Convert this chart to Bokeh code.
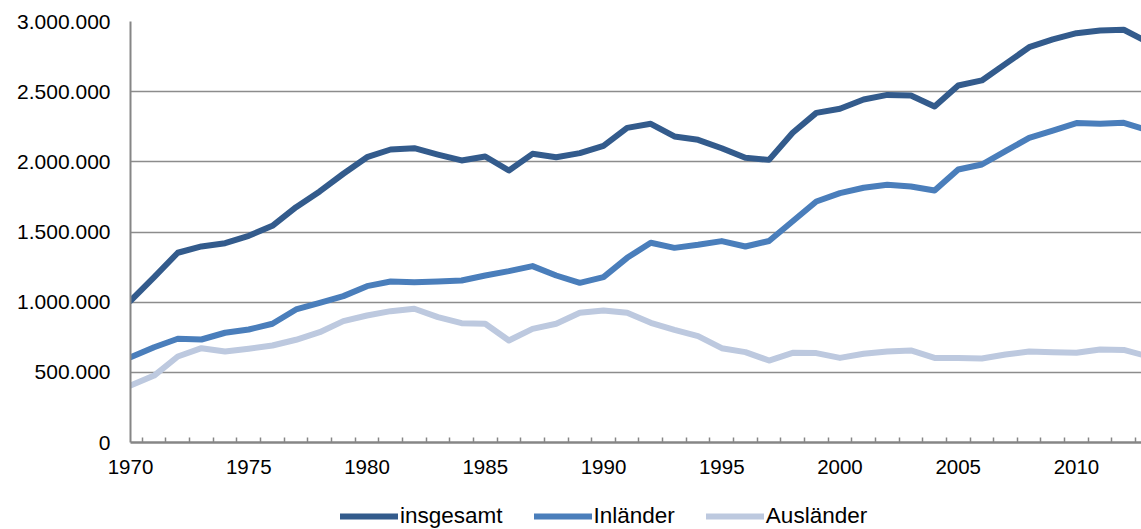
from bokeh.plotting import figure
from bokeh.layouts import column
from bokeh.models import (FixedTicker, CustomJSTickFormatter, Legend, LegendItem,
                          Range1d, ColumnDataSource)
from bokeh.embed import file_html
from bokeh.resources import INLINE

years = list(range(1970, 2014))
insgesamt = [1010000, 1178000, 1352000, 1397000, 1420000, 1473000, 1544000, 1677000, 1789000, 1915000,
             2033000, 2088000, 2097000, 2052000, 2010000, 2038000, 1938000, 2057000, 2033000, 2062000,
             2114000, 2242000, 2271000, 2181000, 2157000, 2097000, 2029000, 2014000, 2207000, 2349000,
             2378000, 2444000, 2477000, 2473000, 2394000, 2544000, 2580000, 2698000, 2817000, 2872000,
             2917000, 2936000, 2941000, 2855000]
inlaender = [608000, 679000, 739000, 734000, 782000, 805000, 846000, 948000, 995000, 1043000,
             1114000, 1147000, 1142000, 1147000, 1154000, 1190000, 1221000, 1257000, 1190000, 1138000,
             1178000, 1316000, 1423000, 1387000, 1409000, 1435000, 1397000, 1436000, 1577000, 1717000,
             1777000, 1815000, 1836000, 1824000, 1796000, 1945000, 1981000, 2076000, 2171000, 2223000,
             2276000, 2271000, 2278000, 2226000]
auslaender = [406000, 477000, 613000, 672000, 648000, 668000, 691000, 732000, 786000, 865000,
              905000, 936000, 953000, 893000, 850000, 846000, 727000, 810000, 846000, 924000,
              941000, 924000, 853000, 803000, 758000, 672000, 644000, 584000, 639000, 637000,
              603000, 632000, 648000, 656000, 603000, 603000, 599000, 627000, 648000, 643000,
              639000, 663000, 660000, 615000]
series_names = ["insgesamt", "Inländer", "Ausländer"]
x_labels = [1970, 1975, 1980, 1985, 1990, 1995, 2000, 2005, 2010]
y_ticks = [0, 500000, 1000000, 1500000, 2000000, 2500000, 3000000]

colors = ["#335B8C", "#4A7EBB", "#BDC9DF"]
FONT = "Liberation Sans"

source = ColumnDataSource(dict(year=years, ins=insgesamt, inl=inlaender, aus=auslaender))

p = figure(width=1141, height=495, output_backend="svg", toolbar_location=None,
           x_range=Range1d(1970, 2012.75), y_range=Range1d(0, 3000000),
           min_border_left=130, min_border_right=0, min_border_top=21, min_border_bottom=53)
p.outline_line_color = None
p.background_fill_color = "white"
p.border_fill_color = "white"

for col, c in zip(["ins", "inl", "aus"], colors):
    p.line("year", col, source=source, line_color=c, line_width=6,
           line_join="round", line_cap="round")

# x axis
p.xaxis.ticker = FixedTicker(ticks=x_labels, minor_ticks=[y + 0.5 for y in years])
p.xaxis.major_tick_in = 0
p.xaxis.major_tick_out = 0
p.xaxis.minor_tick_in = 5
p.xaxis.minor_tick_out = 0
p.xaxis.minor_tick_line_color = "#868686"
p.xaxis.minor_tick_line_width = 1.5
p.xaxis.axis_line_color = "#868686"
p.xaxis.axis_line_width = 2.5
p.xaxis.major_label_standoff = 17
p.xaxis.major_label_text_font = FONT
p.xaxis.major_label_text_font_size = "20.5px"
p.xaxis.major_label_text_color = "#000000"

# y axis
p.yaxis.ticker = FixedTicker(ticks=y_ticks)
p.yaxis.formatter = CustomJSTickFormatter(code="""
    return Math.round(tick).toString().replace(/\\B(?=(\\d{3})+(?!\\d))/g, '.');
""")
p.yaxis.major_tick_in = 0
p.yaxis.major_tick_out = 0
p.yaxis.minor_tick_line_color = None
p.yaxis.axis_line_color = "#868686"
p.yaxis.axis_line_width = 2
p.yaxis.major_label_standoff = 20
p.yaxis.major_label_text_font = FONT
p.yaxis.major_label_text_font_size = "21px"
p.yaxis.major_label_text_color = "#000000"

p.xgrid.grid_line_color = None
p.ygrid.grid_line_color = "#8C8C8C"
p.ygrid.grid_line_width = 1.5

# legend strip below the chart (its lines use the same data but lie outside its ranges)
pl = figure(width=1141, height=34, output_backend="svg", toolbar_location=None,
            x_range=Range1d(0, 1), y_range=Range1d(0, 1),
            min_border_left=130, min_border_right=0, min_border_top=0, min_border_bottom=0)
pl.axis.visible = False
pl.grid.visible = False
pl.outline_line_color = None
leg_renderers = [pl.line("year", col, source=source, line_color=c, line_width=6, line_cap="round")
                 for col, c in zip(["ins", "inl", "aus"], colors)]
legend = Legend(items=[LegendItem(label=n, renderers=[r]) for n, r in zip(series_names, leg_renderers)],
                orientation="horizontal", location=(210, 0),
                glyph_width=58, glyph_height=22, label_standoff=2, spacing=31,
                padding=0, margin=0, border_line_color=None, background_fill_alpha=0,
                label_text_font=FONT, label_text_font_size="22.5px", label_text_color="#000000",
                label_height=22)
pl.add_layout(legend, "center")

layout = column(p, pl, spacing=0)
open("out.html", "w").write(file_html(layout, INLINE))
